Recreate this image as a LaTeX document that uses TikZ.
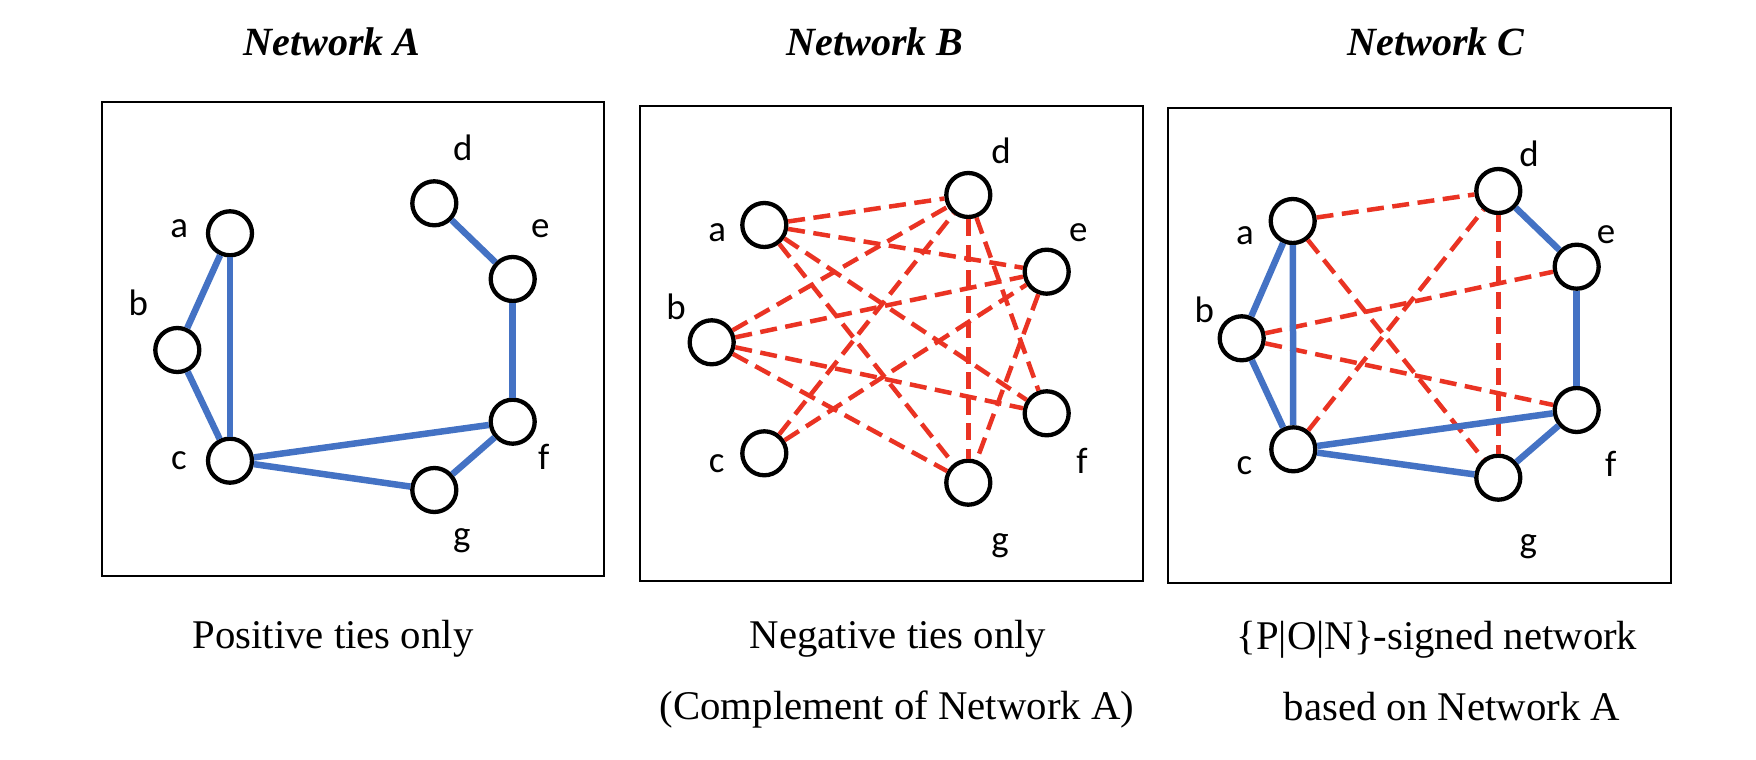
\documentclass[tikz,border=0pt]{standalone}
\usepackage{fontspec}
\setmainfont{Liberation Serif}
\newfontfamily\labelfont{Carlito}
\definecolor{posblue}{RGB}{68,114,196}
\definecolor{negred}{RGB}{234,51,35}

\begin{document}
\begin{tikzpicture}[x=0.02cm,y=-0.02cm,
  actor/.style={circle,draw=black,fill=white,line width=0.086cm,minimum size=0.88cm,inner sep=0pt},
  actorlabel/.style={inner sep=0pt,font=\labelfont\fontsize{21}{21}\selectfont},
  postie/.style={draw=posblue,line width=0.13cm},
  negtie/.style={draw=negred,line width=0.09cm,dash pattern=on 0.34cm off 0.17cm},
  panel/.style={draw=black,line width=0.046cm},
  title/.style={anchor=base,inner sep=0pt,font=\fontsize{22.8}{27}\selectfont\bfseries\itshape},
  caption/.style={anchor=base,inner sep=0pt,font=\fontsize{23.2}{27}\selectfont}]

\useasboundingbox[fill=white] (0,0) rectangle (1756,760);

% titles
\node[title] (tA) at (332,56) {Network A};
\node[title] (tB) at (875,56) {Network B};
\node[title] (tC) at (1436,56) {Network C};

% panel frames
\draw[panel] (101.7,102) rectangle (604.3,576);
\draw[panel] (640,105.7) rectangle (1142.7,581);
\draw[panel] (1168.3,108.3) rectangle (1670.7,582.7);

% ---------- Network A: positive ties ----------
\node[actor] (aA) at (230,233.3) {};
\node[actor] (bA) at (177.3,350) {};
\node[actor] (cA) at (230,460.7) {};
\node[actor] (dA) at (434.3,203.3) {};
\node[actor] (eA) at (512.7,279) {};
\node[actor] (fA) at (512.7,421.7) {};
\node[actor] (gA) at (434.3,490) {};
\node[actorlabel] (laA) at (179.2,228.3) {a};
\node[actorlabel] (lbA) at (138.3,303) {b};
\node[actorlabel] (lcA) at (178.8,460.7) {c};
\node[actorlabel] (ldA) at (462.7,148) {d};
\node[actorlabel] (leA) at (540.3,228.3) {e};
\node[actorlabel] (lfA) at (543.7,457.3) {f};
\node[actorlabel] (lgA) at (461.7,540.7) {g};
\foreach \u/\v in {aA/bA,aA/cA,bA/cA,cA/fA,cA/gA,fA/gA,dA/eA,eA/fA}
  \draw[postie] (\u) -- (\v);

% ---------- Network B: negative ties ----------
\node[actor] (aB) at (764.3,225) {};
\node[actor] (bB) at (711.7,342.3) {};
\node[actor] (cB) at (764.3,453.3) {};
\node[actor] (dB) at (968.3,195) {};
\node[actor] (eB) at (1046.7,271.7) {};
\node[actor] (fB) at (1046.7,413.3) {};
\node[actor] (gB) at (968.3,482.7) {};
\node[actorlabel] (laB) at (717.2,232.5) {a};
\node[actorlabel] (lbB) at (676,307.3) {b};
\node[actorlabel] (lcB) at (716.7,464) {c};
\node[actorlabel] (ldB) at (1001,150.7) {d};
\node[actorlabel] (leB) at (1078.3,232.3) {e};
\node[actorlabel] (lfB) at (1082,460.7) {f};
\node[actorlabel] (lgB) at (1000,545.7) {g};
\foreach \u/\v in {aB/dB,aB/eB,aB/fB,aB/gB,bB/dB,bB/eB,bB/fB,bB/gB,cB/dB,cB/eB,dB/fB,dB/gB,eB/gB}
  \draw[negtie] (\u) -- (\v);

% ---------- Network C: signed ties ----------
\node[actor] (aC) at (1292.7,221) {};
\node[actor] (bC) at (1241.7,338.3) {};
\node[actor] (cC) at (1293.3,449.3) {};
\node[actor] (dC) at (1498.3,191) {};
\node[actor] (eC) at (1576.7,266.7) {};
\node[actor] (fC) at (1576.7,410) {};
\node[actor] (gC) at (1498.3,477.7) {};
\node[actorlabel] (laC) at (1245,235.3) {a};
\node[actorlabel] (lbC) at (1204.3,310) {b};
\node[actorlabel] (lcC) at (1244.3,465.7) {c};
\node[actorlabel] (ldC) at (1529,153.7) {d};
\node[actorlabel] (leC) at (1606,235) {e};
\node[actorlabel] (lfC) at (1610.7,463.7) {f};
\node[actorlabel] (lgC) at (1528.3,547) {g};
\foreach \u/\v in {aC/dC,aC/gC,bC/eC,bC/fC,cC/dC,dC/gC}
  \draw[negtie] (\u) -- (\v);
\foreach \u/\v in {aC/bC,aC/cC,bC/cC,cC/fC,cC/gC,fC/gC,dC/eC,eC/fC}
  \draw[postie] (\u) -- (\v);

% captions
\node[caption] (capA) at (333,648) {Positive ties only};
\node[caption] (capB1) at (898,648) {Negative ties only};
\node[caption] (capB2) at (897,719) {(Complement of Network A)};
\node[caption] (capC1) at (1437,649) {\{P|O|N\}-signed network};
\node[caption] (capC2) at (1452,720) {based on Network A};
\end{tikzpicture}
\end{document}
